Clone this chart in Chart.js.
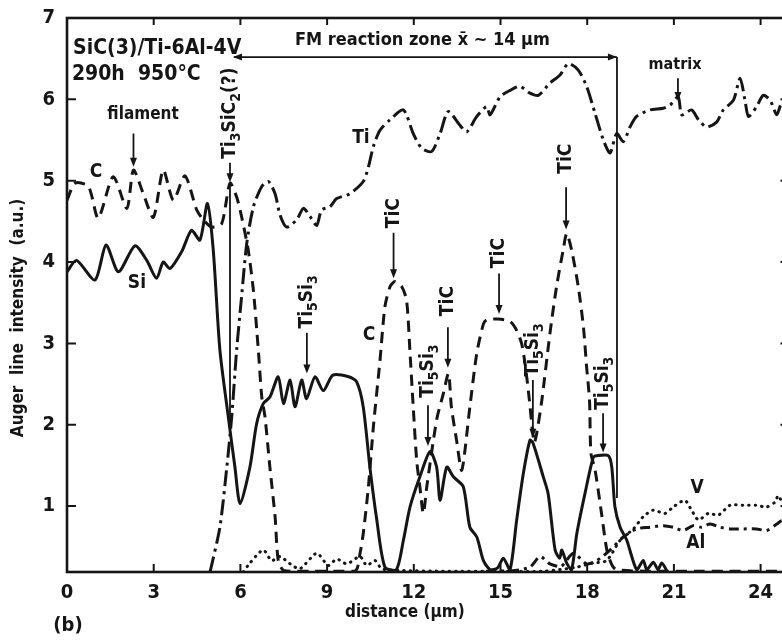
<!DOCTYPE html>
<html>
<head>
<meta charset="utf-8">
<script src="https://cdn.jsdelivr.net/npm/chart.js@4.4.1/dist/chart.umd.min.js"></script>
<style>
  html, body { margin: 0; padding: 0; background: #fff; overflow: hidden; width: 782px; height: 642px; }
  canvas { display: block; }
</style>
</head>
<body>
<canvas id="scan" width="800" height="642"></canvas>
<script>
// Auger line scan across the SiC(3) / Ti-6Al-4V fibre-matrix interface (290 h, 950 °C)

// distance axis (µm) and intensity axis (a.u.) tick values
const distTicks = [0, 3, 6, 9, 12, 15, 18, 21, 24];
const intTicks = [1, 2, 3, 4, 5, 6, 7];

// Si signal (solid)
const siDist = [0, 0.33, 0.97, 1.35, 1.78, 2.35, 2.76, 3.10, 3.33, 3.56, 3.97, 4.31, 4.60, 4.86, 5.06, 5.29, 5.58, 5.81, 5.99, 6.33, 6.56, 6.79, 7.02, 7.31, 7.49, 7.72, 7.89, 8.12, 8.29, 8.58, 8.87, 9.20, 9.75, 10.02, 10.25, 10.48, 10.72, 11.00, 11.40, 11.64, 11.87, 12.21, 12.56, 12.79, 12.91, 13.14, 13.37, 13.71, 13.94, 14.18, 14.41, 14.64, 14.90, 15.10, 15.33, 15.56, 15.79, 16.02, 16.13, 16.48, 16.65, 16.89, 17.05, 17.12, 17.29, 17.46, 17.64, 17.92, 18.21, 18.33, 18.73, 18.85, 18.96, 19.14, 19.37, 19.71, 19.94, 20.06, 20.29, 20.45, 20.58, 20.75];
const siInt  = [3.88, 4.02, 3.78, 4.21, 3.88, 4.20, 4.02, 3.80, 4.00, 3.92, 4.13, 4.39, 4.27, 4.72, 4.15, 2.92, 2.10, 1.48, 1.03, 1.48, 2.01, 2.26, 2.34, 2.59, 2.26, 2.55, 2.22, 2.55, 2.32, 2.59, 2.42, 2.61, 2.59, 2.53, 2.22, 1.48, 0.83, 0.25, 0.22, 0.58, 0.99, 1.36, 1.67, 1.48, 1.07, 1.48, 1.36, 1.24, 0.74, 0.62, 0.33, 0.22, 0.24, 0.36, 0.22, 0.83, 1.40, 1.81, 1.77, 1.36, 1.15, 0.46, 0.36, 0.46, 0.30, 0.22, 0.66, 1.15, 1.60, 1.62, 1.62, 1.48, 0.99, 0.74, 0.58, 0.22, 0.33, 0.22, 0.31, 0.22, 0.30, 0.21];

// C signal (dashed)
const cDist = [0, 0.28, 0.74, 1.08, 1.60, 2.07, 2.30, 2.64, 2.99, 3.33, 3.68, 4.08, 4.49, 4.72, 5.00, 5.35, 5.64, 5.87, 6.04, 6.27, 6.45, 6.62, 6.74, 6.85, 7.02, 7.20, 7.31, 7.50, 8.50, 9.50, 10.00, 10.14, 10.25, 10.43, 10.60, 10.83, 11.00, 11.18, 11.35, 11.58, 11.75, 11.87, 11.98, 12.10, 12.21, 12.33, 12.45, 12.79, 13.02, 13.20, 13.30, 13.48, 13.66, 13.94, 14.18, 14.41, 14.52, 14.90, 15.33, 15.56, 15.73, 15.85, 16.00, 16.10, 16.17, 16.25, 16.43, 16.71, 16.94, 17.17, 17.29, 17.46, 17.69, 17.87, 17.98, 18.08, 18.13, 18.27, 18.50, 18.68, 18.85, 19.00, 20.00, 22.00, 25.00];
const cInt  = [4.76, 4.97, 4.93, 4.54, 5.05, 4.66, 5.13, 4.84, 4.55, 5.13, 4.76, 5.06, 4.64, 4.52, 4.43, 4.47, 4.97, 4.80, 4.56, 4.15, 3.65, 2.92, 2.34, 2.10, 1.48, 0.87, 0.33, 0.21, 0.20, 0.20, 0.21, 0.42, 0.66, 1.24, 1.97, 2.79, 3.45, 3.70, 3.76, 3.70, 3.53, 2.88, 2.22, 1.56, 1.24, 0.91, 1.24, 2.06, 2.38, 2.63, 2.22, 1.81, 1.44, 2.22, 2.88, 3.24, 3.29, 3.30, 3.27, 3.16, 3.00, 2.75, 2.30, 1.95, 1.78, 1.89, 2.30, 3.12, 3.70, 4.15, 4.35, 4.15, 3.70, 3.20, 2.71, 2.30, 1.65, 1.45, 0.90, 0.46, 0.28, 0.22, 0.20, 0.20, 0.20];

// Ti signal (dash-dot)
const tiDist = [4.95, 5.29, 5.53, 5.70, 5.87, 6.04, 6.22, 6.45, 6.74, 6.97, 7.20, 7.37, 7.60, 7.95, 8.18, 8.41, 8.64, 8.81, 9.10, 9.33, 9.79, 10.25, 10.43, 10.60, 10.83, 11.18, 11.64, 11.98, 12.27, 12.62, 12.91, 13.19, 13.60, 13.83, 14.18, 14.52, 14.64, 14.98, 15.33, 15.67, 16.00, 16.31, 16.71, 17.06, 17.35, 17.69, 17.98, 18.27, 18.56, 18.79, 19.02, 19.25, 19.48, 19.71, 20.17, 20.63, 20.87, 21.15, 21.27, 21.61, 21.85, 22.13, 22.48, 22.71, 23.06, 23.29, 23.46, 23.58, 23.86, 24.09, 24.33, 24.56, 24.73, 25.00];
const tiInt  = [0.19, 0.74, 1.48, 2.10, 2.92, 3.57, 4.23, 4.68, 4.93, 4.99, 4.84, 4.58, 4.43, 4.52, 4.66, 4.56, 4.45, 4.64, 4.68, 4.78, 4.84, 4.99, 5.17, 5.42, 5.62, 5.75, 5.87, 5.58, 5.40, 5.36, 5.58, 5.85, 5.68, 5.60, 5.79, 5.91, 5.81, 6.03, 6.11, 6.16, 6.08, 6.05, 6.20, 6.30, 6.44, 6.36, 6.16, 5.83, 5.50, 5.34, 5.58, 5.48, 5.66, 5.79, 5.87, 5.89, 5.93, 6.03, 5.81, 5.87, 5.75, 5.66, 5.72, 5.87, 5.99, 6.26, 5.99, 5.79, 5.91, 6.05, 5.99, 5.81, 5.95, 5.90];

// V signal (dotted)
const vDist = [6.10, 6.33, 6.79, 7.08, 7.37, 7.72, 8.06, 8.64, 9.04, 9.33, 9.68, 10.14, 10.37, 10.66, 10.89, 11.50, 13.00, 15.00, 16.50, 17.64, 18.20, 18.67, 19.14, 19.60, 19.94, 20.29, 20.69, 20.98, 21.38, 21.61, 21.85, 22.19, 22.54, 22.94, 23.40, 23.86, 24.21, 24.50, 24.61, 24.73, 25.00];
const vInt  = [0.19, 0.30, 0.46, 0.33, 0.38, 0.29, 0.23, 0.42, 0.27, 0.35, 0.29, 0.38, 0.27, 0.33, 0.23, 0.21, 0.20, 0.20, 0.20, 0.25, 0.30, 0.33, 0.58, 0.72, 0.87, 0.95, 0.91, 0.99, 1.07, 0.95, 0.83, 0.91, 0.89, 1.01, 1.01, 1.01, 0.99, 1.05, 1.13, 1.07, 1.10];

// Al signal (dash-dot)
const alDist = [14.50, 15.50, 16.02, 16.37, 16.71, 17.10, 17.52, 17.98, 18.33, 18.79, 19.25, 19.71, 20.17, 20.63, 20.98, 21.32, 21.67, 21.96, 22.25, 22.60, 22.94, 23.40, 23.86, 24.21, 24.56, 24.73, 25.00];
const alInt  = [0.20, 0.21, 0.25, 0.38, 0.29, 0.26, 0.42, 0.29, 0.33, 0.46, 0.62, 0.72, 0.74, 0.76, 0.74, 0.70, 0.76, 0.74, 0.78, 0.74, 0.72, 0.72, 0.72, 0.70, 0.78, 0.82, 0.82];

const INK = '#151515';
const FACE = '"DejaVu Sans Condensed", "Liberation Sans Narrow", "DejaVu Sans", sans-serif';

const pts = (xs, ys) => xs.map((x, i) => ({ x, y: ys[i] }));

function series(label, xs, ys, dash, cap) {
  return {
    label, data: pts(xs, ys),
    borderColor: INK, borderWidth: 3, borderDash: dash, borderCapStyle: cap || 'butt',
    borderJoinStyle: 'round', pointRadius: 0, fill: false,
    tension: 0.25
  };
}

// plain horizontal captions (data coordinates, centred)
const captions = [
  { text: 'SiC(3)/Ti-6Al-4V', x: 0.21, y: 6.63, size: 21, align: 'left' },
  { text: '290h  950\u00b0C', x: 0.17, y: 6.31, size: 21, align: 'left' },
  { text: 'FM reaction zone x\u0304 ~ 14 \u03bcm', x: 12.3, y: 6.72, size: 18 },
  { text: 'filament', x: 2.63, y: 5.81, size: 17 },
  { text: 'matrix', x: 21.04, y: 6.43, size: 16 },
  { text: 'C', x: 1.0, y: 5.11, size: 19 },
  { text: 'Si', x: 2.42, y: 3.74, size: 19 },
  { text: 'Ti', x: 10.17, y: 5.52, size: 19 },
  { text: 'C', x: 10.45, y: 3.10, size: 19 },
  { text: 'V', x: 21.8, y: 1.22, size: 19 },
  { text: 'Al', x: 21.76, y: 0.54, size: 19 }
];

// phase labels written upwards, each with a downward arrow
const TI5SI3 = [['Ti'], ['5', 1], ['Si'], ['3', 1]];
const TIC = [['TiC']];
const phaseTags = [
  { parts: [['Ti'], ['3', 1], ['SiC'], ['2', 1], ['(?)']], x: 5.64, y: 5.83, from: 5.22, to: 4.98 },
  { parts: TI5SI3, x: 8.30, y: 3.51, from: 3.13, to: 2.63 },
  { parts: TIC, x: 11.30, y: 4.60, from: 4.36, to: 3.80 },
  { parts: TI5SI3, x: 12.49, y: 2.66, from: 2.24, to: 1.74 },
  { parts: TIC, x: 13.18, y: 3.52, from: 3.20, to: 2.70 },
  { parts: TIC, x: 14.95, y: 4.11, from: 3.86, to: 3.36 },
  { parts: TI5SI3, x: 16.12, y: 2.92, from: 2.55, to: 1.84 },
  { parts: TIC, x: 17.27, y: 5.27, from: 4.92, to: 4.40 },
  { parts: TI5SI3, x: 18.55, y: 2.51, from: 2.14, to: 1.66 }
];

// plain pointer arrows
const pointers = [
  { x: 2.30, from: 5.58, to: 5.17 },
  { x: 21.14, from: 6.26, to: 5.98 }
];

// reaction-zone bracket
const zone = { left: 5.64, right: 19.03, level: 6.52, leftFoot: 2.0, rightFoot: 1.1 };

function arrowDown(ctx, x, y1, y2) {
  ctx.beginPath(); ctx.moveTo(x, y1); ctx.lineTo(x, y2 - 6); ctx.stroke();
  ctx.beginPath(); ctx.moveTo(x - 3.5, y2 - 9); ctx.lineTo(x + 3.5, y2 - 9); ctx.lineTo(x, y2); ctx.closePath(); ctx.fill();
}

function drawRich(ctx, parts, size, cx, cy) {
  const subSize = Math.round(size * 0.72);
  const widths = parts.map(([t, sub]) => {
    ctx.font = `bold ${sub ? subSize : size}px ${FACE}`;
    return ctx.measureText(t).width;
  });
  const total = widths.reduce((a, b) => a + b, 0);
  ctx.save();
  ctx.translate(cx, cy);
  ctx.rotate(-Math.PI / 2);
  ctx.textAlign = 'left'; ctx.textBaseline = 'middle';
  let pos = -total / 2;
  parts.forEach(([t, sub], i) => {
    ctx.font = `bold ${sub ? subSize : size}px ${FACE}`;
    ctx.fillText(t, pos, sub ? size * 0.32 : 0);
    pos += widths[i];
  });
  ctx.restore();
}

const inkPlugin = {
  id: 'ink',
  afterDraw(chart) {
    const { ctx, chartArea: a, scales: { x, y } } = chart;
    const X = v => x.getPixelForValue(v), Y = v => y.getPixelForValue(v);
    ctx.save();
    ctx.strokeStyle = INK; ctx.fillStyle = INK;

    // frame
    ctx.lineWidth = 2.6;
    ctx.strokeRect(a.left, a.top, a.right - a.left, a.bottom - a.top);

    // inward ticks
    ctx.lineWidth = 2;
    ctx.beginPath();
    distTicks.forEach(v => {
      const px = X(v);
      ctx.moveTo(px, a.bottom); ctx.lineTo(px, a.bottom - 8);
      ctx.moveTo(px, a.top); ctx.lineTo(px, a.top + 7);
    });
    intTicks.forEach(v => {
      const py = Y(v);
      ctx.moveTo(a.left, py); ctx.lineTo(a.left + 9, py);
      ctx.moveTo(a.right, py); ctx.lineTo(a.right - 9, py);
    });
    ctx.stroke();

    // reaction-zone bracket
    ctx.lineWidth = 1.8;
    const zl = X(zone.left), zr = X(zone.right), zy = Y(zone.level);
    ctx.beginPath();
    ctx.moveTo(zl + 4, zy); ctx.lineTo(zr, zy);
    ctx.moveTo(zr, zy); ctx.lineTo(zr, Y(zone.rightFoot));
    ctx.moveTo(zl, Y(4.98)); ctx.lineTo(zl, Y(zone.leftFoot));
    ctx.stroke();
    ctx.beginPath(); ctx.moveTo(zl + 3, zy); ctx.lineTo(zl + 12, zy - 3.5); ctx.lineTo(zl + 12, zy + 3.5); ctx.closePath(); ctx.fill();
    ctx.beginPath(); ctx.moveTo(zr, zy); ctx.lineTo(zr - 9, zy - 3.5); ctx.lineTo(zr - 9, zy + 3.5); ctx.closePath(); ctx.fill();

    // captions
    captions.forEach(c => {
      ctx.font = `bold ${c.size}px ${FACE}`;
      ctx.textAlign = c.align || 'center'; ctx.textBaseline = 'middle';
      ctx.fillText(c.text, X(c.x), Y(c.y));
    });

    // pointer arrows
    ctx.lineWidth = 1.8;
    pointers.forEach(p => arrowDown(ctx, X(p.x), Y(p.from), Y(p.to)));

    // phase tags
    phaseTags.forEach(t => {
      drawRich(ctx, t.parts, 19, X(t.x), Y(t.y));
      arrowDown(ctx, X(t.x), Y(t.from), Y(t.to));
    });

    // axis titles and panel letter
    ctx.textAlign = 'center'; ctx.textBaseline = 'middle';
    ctx.font = `bold 17px ${FACE}`;
    ctx.fillText('distance (\u03bcm)', (X(0) + X(24)) / 2 - 9, 613);
    ctx.save();
    ctx.translate(19, 318); ctx.rotate(-Math.PI / 2);
    ctx.fillText('Auger  line  intensity  (a.u.)', 0, 0);
    ctx.restore();
    ctx.font = `bold 20px ${FACE}`;
    ctx.fillText('(b)', 68, 626);
    ctx.restore();
  }
};

const tickFont = { family: FACE, size: 20, weight: 'bold' };

new Chart(document.getElementById('scan'), {
  type: 'line',
  data: {
    datasets: [
      series('Si', siDist, siInt, []),
      series('C', cDist, cInt, [11, 7]),
      series('Ti', tiDist, tiInt, [16, 5, 3, 5]),
      series('V', vDist, vInt, [0.5, 6], 'round'),
      series('Al', alDist, alInt, [10, 5, 3, 5])
    ]
  },
  options: {
    responsive: false,
    animation: false,
    layout: { padding: { left: 0, top: 18, right: 10.5, bottom: 0 } },
    plugins: { legend: { display: false }, tooltip: { enabled: false }, title: { display: false } },
    scales: {
      x: {
        type: 'linear', min: 0, max: 25,
        afterBuildTicks: s => { s.ticks = distTicks.map(v => ({ value: v })); },
        afterFit: s => { s.height = 70; s.paddingLeft = 0; s.paddingRight = 0; },
        grid: { display: false, drawTicks: false },
        border: { display: false },
        ticks: { color: INK, font: tickFont, padding: 9, maxRotation: 0, autoSkip: false }
      },
      y: {
        type: 'linear', min: 0.19, max: 7,
        afterBuildTicks: s => { s.ticks = intTicks.map(v => ({ value: v })); },
        afterFit: s => { s.width = 67; s.paddingTop = 0; s.paddingBottom = 0; },
        grid: { display: false, drawTicks: false },
        border: { display: false },
        ticks: { color: INK, font: tickFont, padding: 12 }
      }
    }
  },
  plugins: [inkPlugin]
});
</script>
</body>
</html>
